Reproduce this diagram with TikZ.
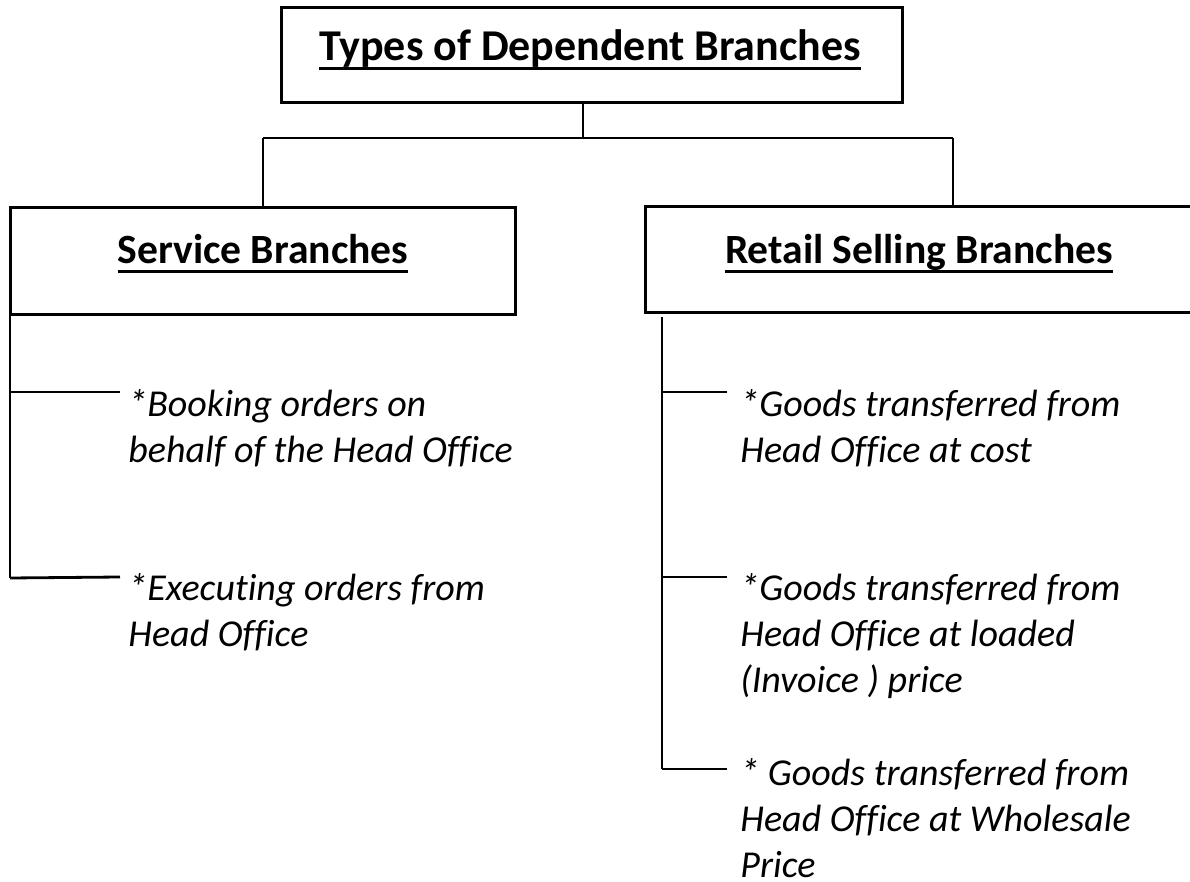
\documentclass[tikz,border=0pt]{standalone}
\usepackage{fontspec}
\setmainfont{Carlito}[Ligatures=NoCommon]
\newcommand\hul[1]{\setbox0\hbox{#1}\leavevmode\rlap{\rule[-4.5pt]{\wd0}{1.4pt}}\box0}
\begin{document}
\begin{tikzpicture}[x=0.5pt,y=-0.5pt,
  boxst/.style={draw,line width=1.5pt,inner sep=0},
  head/.style={font=\fontsize{22}{26}\selectfont\bfseries,anchor=base,inner sep=0},
  subhead/.style={font=\fontsize{20.8}{25}\selectfont\bfseries,anchor=base,inner sep=0},
  item/.style={font=\fontsize{19}{23}\selectfont\itshape,align=left,anchor=north west,inner sep=0},
  conn/.style={line width=1.4pt}]
\useasboundingbox (0,0) rectangle (1190,882);
% boxes
\draw[boxst] (281,8) rectangle (902,103);
\draw[boxst] (10,208) rectangle (515,315);
\draw[boxst] (645,207) rectangle (1195,313);
\node[head] (top) at (590,61) {\hul{Types of Dependent Branches}};
\node[subhead] (svc) at (263,264) {\hul{Service Branches}};
\node[subhead] (ret) at (919,264) {\hul{Retail Selling Branches}};
% tree connectors
\coordinate (tb) at (583,103);
\coordinate (tj) at (583,138);
\coordinate (lj) at (263,138);
\coordinate (rj) at (953,138);
\coordinate (lt) at (263,208);
\coordinate (rt) at (953,207);
\draw[conn] (tb) -- (tj);
\draw[conn] (lj) -- (rj);
\draw[conn] (lj) -- (lt);
\draw[conn] (rj) -- (rt);
% left branch
\coordinate (l0) at (10,315);
\coordinate (l1) at (10,392);
\coordinate (l2) at (10,578);
\coordinate (l1e) at (120,392);
\coordinate (l2e) at (120,577);
\draw[conn] (l0) -- (l2);
\draw[conn] (l1) -- (l1e);
\draw[conn] (l2) -- (l2e);
% right branch
\coordinate (r0) at (662,317);
\coordinate (r1) at (662,392);
\coordinate (r2) at (662,577);
\coordinate (r3) at (662,769);
\coordinate (r1e) at (727,392);
\coordinate (r2e) at (727,577);
\coordinate (r3e) at (727,769);
\draw[conn] (r0) -- (r3);
\draw[conn] (r1) -- (r1e);
\draw[conn] (r2) -- (r2e);
\draw[conn] (r3) -- (r3e);
% items
\node[item] (a1) at (128,384) {\strut*Booking orders on\\behalf of the Head Office};
\node[item] (a2) at (128,568) {\strut*Executing orders from\\Head Office};
\node[item] (b1) at (740,384) {\strut*Goods transferred from\\Head Office at cost};
\node[item] (b2) at (740,568) {\strut*Goods transferred from\\Head Office at loaded\\(Invoice ) price};
\node[item] (b3) at (740,753) {\strut* Goods transferred from\\Head Office at Wholesale\\Price};
\end{tikzpicture}
\end{document}
